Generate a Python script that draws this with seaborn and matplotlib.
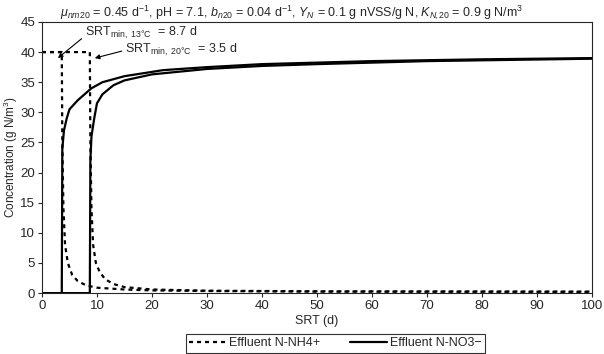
import seaborn as sns
from matplotlib import pyplot as plt

# effluent NH4 (dashed), 20C and 13C runs
srt_nh4_20 = [0, 3.6, 3.7, 3.9, 4.2, 4.7, 5.5, 6.5, 8, 10, 15, 20, 30, 50, 100]
nh4_20 = [40, 40, 25, 14, 8, 5, 3, 2, 1.3, 0.9, 0.6, 0.45, 0.35, 0.25, 0.2]
srt_nh4_13 = [0, 8.7, 8.8, 9.0, 9.3, 9.8, 10.5, 11.5, 13, 15, 20, 30, 50, 100]
nh4_13 = [40, 40, 25, 14, 8, 5, 3.5, 2.3, 1.5, 1.0, 0.6, 0.4, 0.3, 0.25]

# effluent NO3 (solid)
srt_no3_20 = [0, 3.6, 3.7, 4.0, 4.5, 5, 6.5, 9, 11, 15, 22, 30, 40, 60, 80, 100]
no3_20 = [0, 0, 24, 27, 29, 30.5, 32, 34, 35, 36, 37, 37.5, 38, 38.5, 38.8, 39]
srt_no3_13 = [0, 8.7, 8.8, 9.0, 9.5, 10, 11, 13, 15, 20, 30, 40, 50, 70, 100]
no3_13 = [0, 0, 22, 26, 29, 31.5, 33, 34.5, 35.3, 36.3, 37.2, 37.7, 38, 38.5, 38.9]

sns.set_style('ticks')
plt.rcParams['font.family'] = ['Liberation Sans', 'DejaVu Sans']
plt.rcParams['mathtext.fontset'] = 'custom'
plt.rcParams['mathtext.rm'] = 'Liberation Sans'
plt.rcParams['mathtext.it'] = 'Liberation Sans:italic'

fig = plt.figure(figsize=(6.04, 3.54), dpi=100)
ax = fig.add_axes([0.0695, 0.172, 0.9105, 0.766])

kw = dict(color='black', sort=False, estimator=None, ax=ax, linewidth=1.6)
dash = (0, (1.8, 1.8))
sns.lineplot(x=srt_nh4_20, y=nh4_20, linestyle=dash, label='Effluent N-NH4+', **kw)
sns.lineplot(x=srt_nh4_13, y=nh4_13, linestyle=dash, **kw)
sns.lineplot(x=srt_no3_20, y=no3_20, linestyle='-', label='Effluent N-NO3\u2212', **kw)
sns.lineplot(x=srt_no3_13, y=no3_13, linestyle='-', **kw)

ax.set_xlim(0, 100)
ax.set_ylim(0, 45)
ax.set_xticks(range(0, 101, 10))
ax.set_yticks(range(0, 46, 5))
ax.tick_params(labelsize=9.5, length=3, width=0.8, pad=2)
for s in ax.spines.values():
    s.set_linewidth(0.8)
    s.set_visible(True)
ax.set_xlabel('SRT (d)', fontsize=9, labelpad=2)
ax.set_ylabel('Concentration (g N/m$^3$)', fontsize=8.5)
ax.yaxis.set_label_coords(-0.04, 0.5)

fig.text(0.483, 0.965,
         r'$\mu_{nm20}$ = 0.45 d$^{-1}$, pH = 7.1, $b_{n20}$ = 0.04 d$^{-1}$, '
         r'$Y_N$ = 0.1 g nVSS/g N, $K_{N\!,20}$ = 0.9 g N/m$^3$',
         fontsize=9, ha='center', va='center')

arrow = dict(arrowstyle='-|>', color='black', lw=0.8, shrinkA=0, shrinkB=0, mutation_scale=7)
ax.annotate(r'SRT$_{\mathrm{min,\ 13°C}}$  = 8.7 d', xy=(2.9, 39.0), xytext=(7.8, 43.2),
            fontsize=9, va='center', arrowprops=dict(arrow, relpos=(0, 0.3)))
ax.annotate(r'SRT$_{\mathrm{min,\ 20°C}}$  = 3.5 d', xy=(9.6, 39.0), xytext=(15.1, 40.3),
            fontsize=9, va='center', arrowprops=dict(arrow, relpos=(0, 0.5)))

ax.legend(loc='center', bbox_to_anchor=(0.555, 0.03), bbox_transform=fig.transFigure,
          ncol=2, fontsize=9, frameon=True, fancybox=False, edgecolor='black',
          handlelength=3, handletextpad=0.2, columnspacing=2.4, borderpad=0.25)
ax.get_legend().get_frame().set_linewidth(0.8)

fig.savefig('out.png', dpi=100)
